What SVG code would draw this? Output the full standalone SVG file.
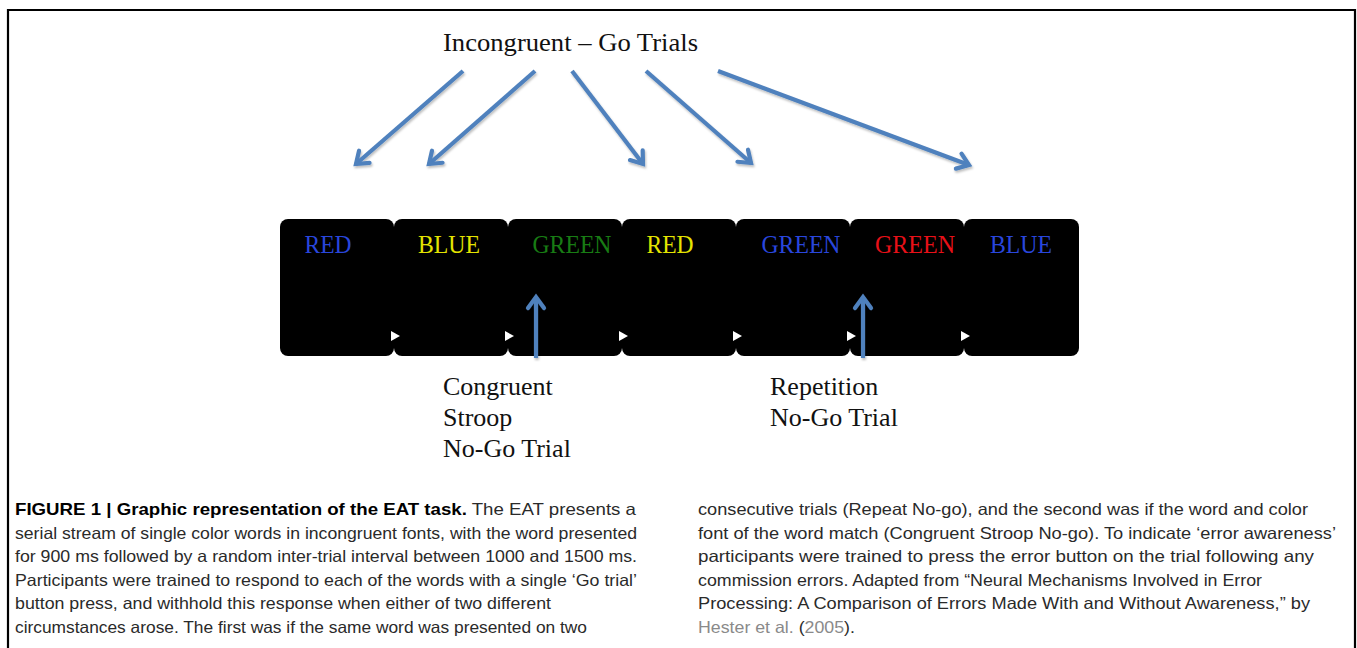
<svg xmlns="http://www.w3.org/2000/svg" width="1357" height="648" viewBox="0 0 1357 648">
<style>
.frame{fill:none;stroke:#000;stroke-width:2.2}
.box{fill:#000}
.tri{fill:#fff}
.word{font-family:"Liberation Serif",serif;font-size:26px;text-anchor:middle}
.lbl{font-family:"Liberation Serif",serif;font-size:26px;fill:#111}
.arr{fill:none;stroke:#4f81bd;stroke-width:4.2;marker-end:url(#head)}
.cap{font-family:"Liberation Sans",Arial,sans-serif;font-size:16.5px;fill:#2a2a2a}
.b{font-weight:bold;fill:#000}
.ref{fill:#8a8a8a}
.blue{fill:#2946dc}.yellow{fill:#e4e400}.green{fill:#187c14}.red{fill:#e81018}
</style>
<defs>
<marker id="head" markerUnits="userSpaceOnUse" orient="auto" markerWidth="30" markerHeight="30" refX="0" refY="0" viewBox="-15 -15 30 30" overflow="visible">
<path d="M-11,-8 L0,0 L-11,8" fill="none" stroke="#4f81bd" stroke-width="4.2" stroke-linecap="round" stroke-linejoin="miter"/>
</marker>
<filter id="sh" x="-10%" y="-10%" width="130%" height="130%">
<feDropShadow dx="1" dy="2" stdDeviation="1.2" flood-color="#000" flood-opacity="0.25"/>
</filter>
</defs>

<path class="frame" d="M8,648 V10 H1355 V648"/>

<g id="title"><text class="lbl" x="443" y="51" textLength="255" lengthAdjust="spacingAndGlyphs">Incongruent – Go Trials</text></g>

<g id="trial7"><rect class="box" x="964" y="219" width="115" height="137" rx="8"/><text class="word blue" x="1021" y="253" textLength="62" lengthAdjust="spacingAndGlyphs">BLUE</text></g>
<g id="trial6"><rect class="box" x="850" y="219" width="114" height="137" rx="8"/><text class="word red" x="915" y="253" textLength="80" lengthAdjust="spacingAndGlyphs">GREEN</text><polygon class="tri" points="961,331 970,336 961,341"/></g>
<g id="trial5"><rect class="box" x="736" y="219" width="114" height="137" rx="8"/><text class="word blue" x="801" y="253" textLength="79" lengthAdjust="spacingAndGlyphs">GREEN</text><polygon class="tri" points="847,331 856,336 847,341"/></g>
<g id="trial4"><rect class="box" x="622" y="219" width="114" height="137" rx="8"/><text class="word yellow" x="670" y="253" textLength="47" lengthAdjust="spacingAndGlyphs">RED</text><polygon class="tri" points="733,331 742,336 733,341"/></g>
<g id="trial3"><rect class="box" x="508" y="219" width="114" height="137" rx="8"/><text class="word green" x="572" y="253" textLength="79" lengthAdjust="spacingAndGlyphs">GREEN</text><polygon class="tri" points="619,331 628,336 619,341"/></g>
<g id="trial2"><rect class="box" x="394" y="219" width="114" height="137" rx="8"/><text class="word yellow" x="449" y="253" textLength="62" lengthAdjust="spacingAndGlyphs">BLUE</text><polygon class="tri" points="505,331 514,336 505,341"/></g>
<g id="trial1"><rect class="box" x="280" y="219" width="114" height="137" rx="8"/><text class="word blue" x="328" y="253" textLength="47" lengthAdjust="spacingAndGlyphs">RED</text><polygon class="tri" points="391,331 400,336 391,341"/></g>

<g id="connectors" filter="url(#sh)">
<line class="arr" x1="463" y1="71" x2="356" y2="164"/>
<line class="arr" x1="535" y1="71" x2="429" y2="164"/>
<line class="arr" x1="572" y1="71" x2="643" y2="164"/>
<line class="arr" x1="646" y1="71" x2="751" y2="163"/>
<line class="arr" x1="718" y1="71" x2="969" y2="165"/>
<line class="arr" x1="536" y1="358" x2="536" y2="297"/>
<line class="arr" x1="863" y1="358" x2="863" y2="297"/>
</g>

<g id="label-congruent"><text class="lbl" x="443" y="395">Congruent</text><text class="lbl" x="443" y="426">Stroop</text><text class="lbl" x="443" y="457">No-Go Trial</text></g>
<g id="label-repetition"><text class="lbl" x="770" y="395">Repetition</text><text class="lbl" x="770" y="426">No-Go Trial</text></g>

<g id="caption">
<text class="cap" x="15" y="515" textLength="621" lengthAdjust="spacingAndGlyphs"><tspan class="b">FIGURE 1 | Graphic representation of the EAT task.</tspan> The EAT presents a</text>
<text class="cap" x="15" y="539" textLength="622" lengthAdjust="spacingAndGlyphs">serial stream of single color words in incongruent fonts, with the word presented</text>
<text class="cap" x="15" y="562" textLength="622" lengthAdjust="spacingAndGlyphs">for 900 ms followed by a random inter-trial interval between 1000 and 1500 ms.</text>
<text class="cap" x="15" y="586" textLength="622" lengthAdjust="spacingAndGlyphs">Participants were trained to respond to each of the words with a single ‘Go trial’</text>
<text class="cap" x="15" y="609" textLength="536" lengthAdjust="spacingAndGlyphs">button press, and withhold this response when either of two different</text>
<text class="cap" x="15" y="633" textLength="572" lengthAdjust="spacingAndGlyphs">circumstances arose. The first was if the same word was presented on two</text>
<text class="cap" x="698" y="515" textLength="610" lengthAdjust="spacingAndGlyphs">consecutive trials (Repeat No-go), and the second was if the word and color</text>
<text class="cap" x="698" y="539" textLength="638" lengthAdjust="spacingAndGlyphs">font of the word match (Congruent Stroop No-go). To indicate ‘error awareness’</text>
<text class="cap" x="698" y="562" textLength="616" lengthAdjust="spacingAndGlyphs">participants were trained to press the error button on the trial following any</text>
<text class="cap" x="698" y="586" textLength="564" lengthAdjust="spacingAndGlyphs">commission errors. Adapted from “Neural Mechanisms Involved in Error</text>
<text class="cap" x="698" y="609" textLength="612" lengthAdjust="spacingAndGlyphs">Processing: A Comparison of Errors Made With and Without Awareness,” by</text>
<text class="cap" x="698" y="633" textLength="157" lengthAdjust="spacingAndGlyphs"><tspan class="ref">Hester et al.</tspan> (<tspan class="ref">2005</tspan>).</text>
</g>
</svg>
